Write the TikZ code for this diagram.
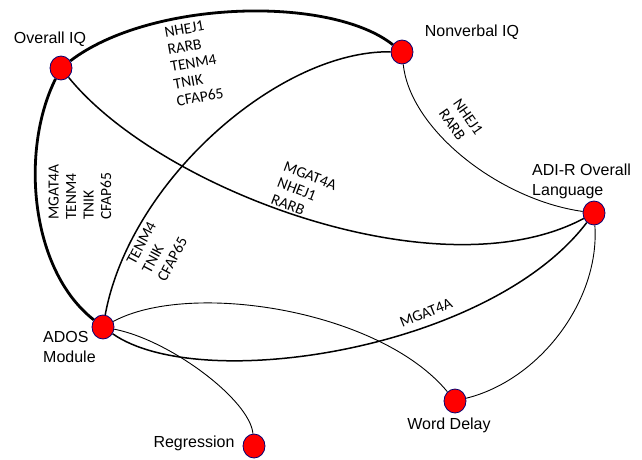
\documentclass[tikz,border=0pt]{standalone}
\usepackage{fontspec}
\setmainfont{Liberation Sans}
\newfontfamily\genefont{Carlito}
\usetikzlibrary{shapes.geometric, backgrounds}

\begin{document}
\begin{tikzpicture}[x=1pt, y=-1pt,
  trait/.style={ellipse, draw=blue!45!black, fill=red, line width=0.8pt,
                minimum width=22pt, minimum height=24pt, inner sep=0pt},
  lab/.style={font=\fontsize{16}{20}\selectfont, inner sep=0pt},
  gene/.style={font=\genefont\fontsize{15.5}{17.5}\selectfont, align=left, inner sep=0pt},
  heavy/.style={line width=2.8pt},
  mid/.style={line width=1.5pt},
  light/.style={line width=0.9pt}
]
\useasboundingbox (0,0) rectangle (642,460);

% traits
\node[trait] (oiq)  at (61,68)   {};
\node[trait] (niq)  at (402,52)  {};
\node[trait] (adi)  at (594,213) {};
\node[trait] (ados) at (103,327) {};
\node[trait] (reg)  at (254,446) {};
\node[trait] (wd)   at (455,401) {};

\node[lab] (loiq)  at (50,39)   {Overall IQ};
\node[lab] (lniq)  at (472,32)  {Nonverbal IQ};
\node[lab, anchor=west, align=left] (ladi)  at (532,181) {ADI-R Overall\\Language};
\node[lab, anchor=west, align=left] (lados) at (43,347)  {ADOS\\Module};
\node[lab] (lreg)  at (194,443) {Regression};
\node[lab] (lwd)   at (449,425) {Word Delay};

% links
\begin{scope}[on background layer]
\draw[heavy] (oiq) .. controls (150,0) and (330,-5) .. (niq);
\draw[heavy] (oiq) .. controls (20,150) and (30,270) .. (ados);
\draw[mid]   (oiq) .. controls (160,190) and (440,295) .. (adi);
\draw[mid]   (niq) .. controls (280,50) and (130,180) .. (ados);
\draw[light] (niq) .. controls (410,130) and (500,200) .. (adi);
\draw[mid]   (ados) .. controls (200,395) and (490,350) .. (adi);
\draw[light] (ados) .. controls (190,280) and (380,310) .. (wd);
\draw[light] (ados) .. controls (170,340) and (250,400) .. (reg);
\draw[light] (adi) .. controls (600,300) and (540,380) .. (wd);
\end{scope}

% shared genes
\node[gene, rotate=10]  (goiqniq)  at (194,63)  {NHEJ1\\RARB\\TENM4\\TNIK\\CFAP65};
\node[gene, rotate=90]  (goiqados) at (80,192)  {MGAT4A\\TENM4\\TNIK\\CFAP65};
\node[gene, rotate=-21] (goiqadi)  at (304,192) {MGAT4A\\NHEJ1\\RARB};
\node[gene, rotate=62]  (gniqados) at (157,251) {TENM4\\TNIK\\CFAP65};
\node[gene, rotate=-55] (gniqadi)  at (461,122) {NHEJ1\\RARB};
\node[gene, rotate=22]  (gadosadi) at (426,313) {MGAT4A};
\end{tikzpicture}
\end{document}
